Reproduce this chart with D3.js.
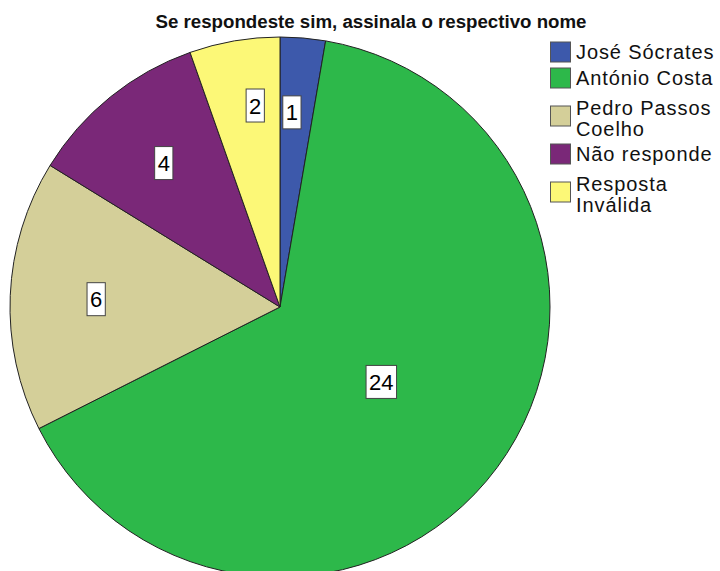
<!DOCTYPE html>
<html>
<head>
<meta charset="utf-8">
<script src="https://cdn.jsdelivr.net/npm/d3@7"></script>
<style>
  body { margin: 0; background: #fff; }
  svg { display: block; font-family: "Liberation Sans", Arial, sans-serif; }
</style>
</head>
<body>
<svg id="chart"></svg>
<script>
// data
var categories = ["José Sócrates", "António Costa", "Pedro Passos Coelho", "Não responde", "Resposta Inválida"];
var legendLines = [["José Sócrates"], ["António Costa"], ["Pedro Passos", "Coelho"], ["Não responde"], ["Resposta", "Inválida"]];
var counts = [1, 24, 6, 4, 2];
var colors = ["#3d59ab", "#2db84a", "#d4cf99", "#7a2878", "#fcf877"];
var title = "Se respondeste sim, assinala o respectivo nome";

// layout of the value boxes inside the slices (radius, share of slice angle)
var labelRadius = [195, 126, 184, 185, 203];
var labelAngleShare = [0.36, 0.5, 0.5, 0.5, 0.64];

var svgWidth = 720, svgHeight = 571;
var cx = 280, cy = 307, radius = 270;

var svg = d3.select("#chart")
  .attr("width", svgWidth)
  .attr("height", svgHeight);

// title
svg.append("text")
  .attr("x", 371)
  .attr("y", 28)
  .attr("text-anchor", "middle")
  .style("font-size", "18.7px")
  .style("font-weight", "bold")
  .attr("fill", "#111")
  .text(title);

var data = categories.map(function(c, i) {
  return { name: c, value: counts[i], color: colors[i], idx: i };
});

var pie = d3.pie()
  .sort(null)
  .value(function(d) { return d.value; });

var arcs = pie(data);

var arc = d3.arc()
  .innerRadius(0)
  .outerRadius(radius);

var g = svg.append("g")
  .attr("transform", "translate(" + cx + "," + cy + ")");

g.selectAll("path.slice")
  .data(arcs)
  .enter().append("path")
  .attr("class", "slice")
  .attr("d", arc)
  .attr("fill", function(d) { return d.data.color; })
  .attr("stroke", "#222")
  .attr("stroke-width", 1)
  .attr("stroke-linejoin", "round");

// value labels in white boxes
var labels = g.selectAll("g.lbl")
  .data(arcs)
  .enter().append("g")
  .attr("class", "lbl")
  .attr("transform", function(d) {
    var i = d.data.idx;
    var a = d.startAngle + (d.endAngle - d.startAngle) * labelAngleShare[i];
    var r = labelRadius[i];
    var la = d3.arc().innerRadius(r).outerRadius(r);
    var p = la.centroid({ startAngle: a, endAngle: a });
    return "translate(" + p[0] + "," + p[1] + ")";
  });

labels.append("text")
  .attr("text-anchor", "middle")
  .attr("y", 8)
  .style("font-size", "22px")
  .attr("fill", "#000")
  .text(function(d) { return d.data.value; });

labels.each(function() {
  var t = d3.select(this).select("text");
  var bb = t.node().getBBox();
  d3.select(this).insert("rect", "text")
    .attr("x", bb.x - 3)
    .attr("y", -16.5)
    .attr("width", bb.width + 6)
    .attr("height", 33)
    .attr("fill", "#fff")
    .attr("stroke", "#444")
    .attr("stroke-width", 1);
});

// legend
var legend = svg.append("g")
  .attr("transform", "translate(550,0)");

var itemHeights = legendLines.map(function(l) { return l.length > 1 ? 50 : 26; });
var y = 39;
legendLines.forEach(function(lines, i) {
  var h = itemHeights[i];
  var mid = y + h / 2;
  var item = legend.append("g");
  item.append("rect")
    .attr("x", 0.5)
    .attr("y", mid - 10)
    .attr("width", 20)
    .attr("height", 20)
    .attr("fill", colors[i])
    .attr("stroke", "#555")
    .attr("stroke-width", 1);
  var txt = item.append("text")
    .attr("x", 26)
    .style("font-size", "20px")
    .style("letter-spacing", "0.9px")
    .attr("fill", "#111");
  lines.forEach(function(line, j) {
    var base = lines.length > 1 ? mid - 1 + j * 21 : mid + 7;
    txt.append("tspan")
      .attr("x", 26)
      .attr("y", base)
      .text(line);
  });
  y += h;
});
</script>
</body>
</html>
